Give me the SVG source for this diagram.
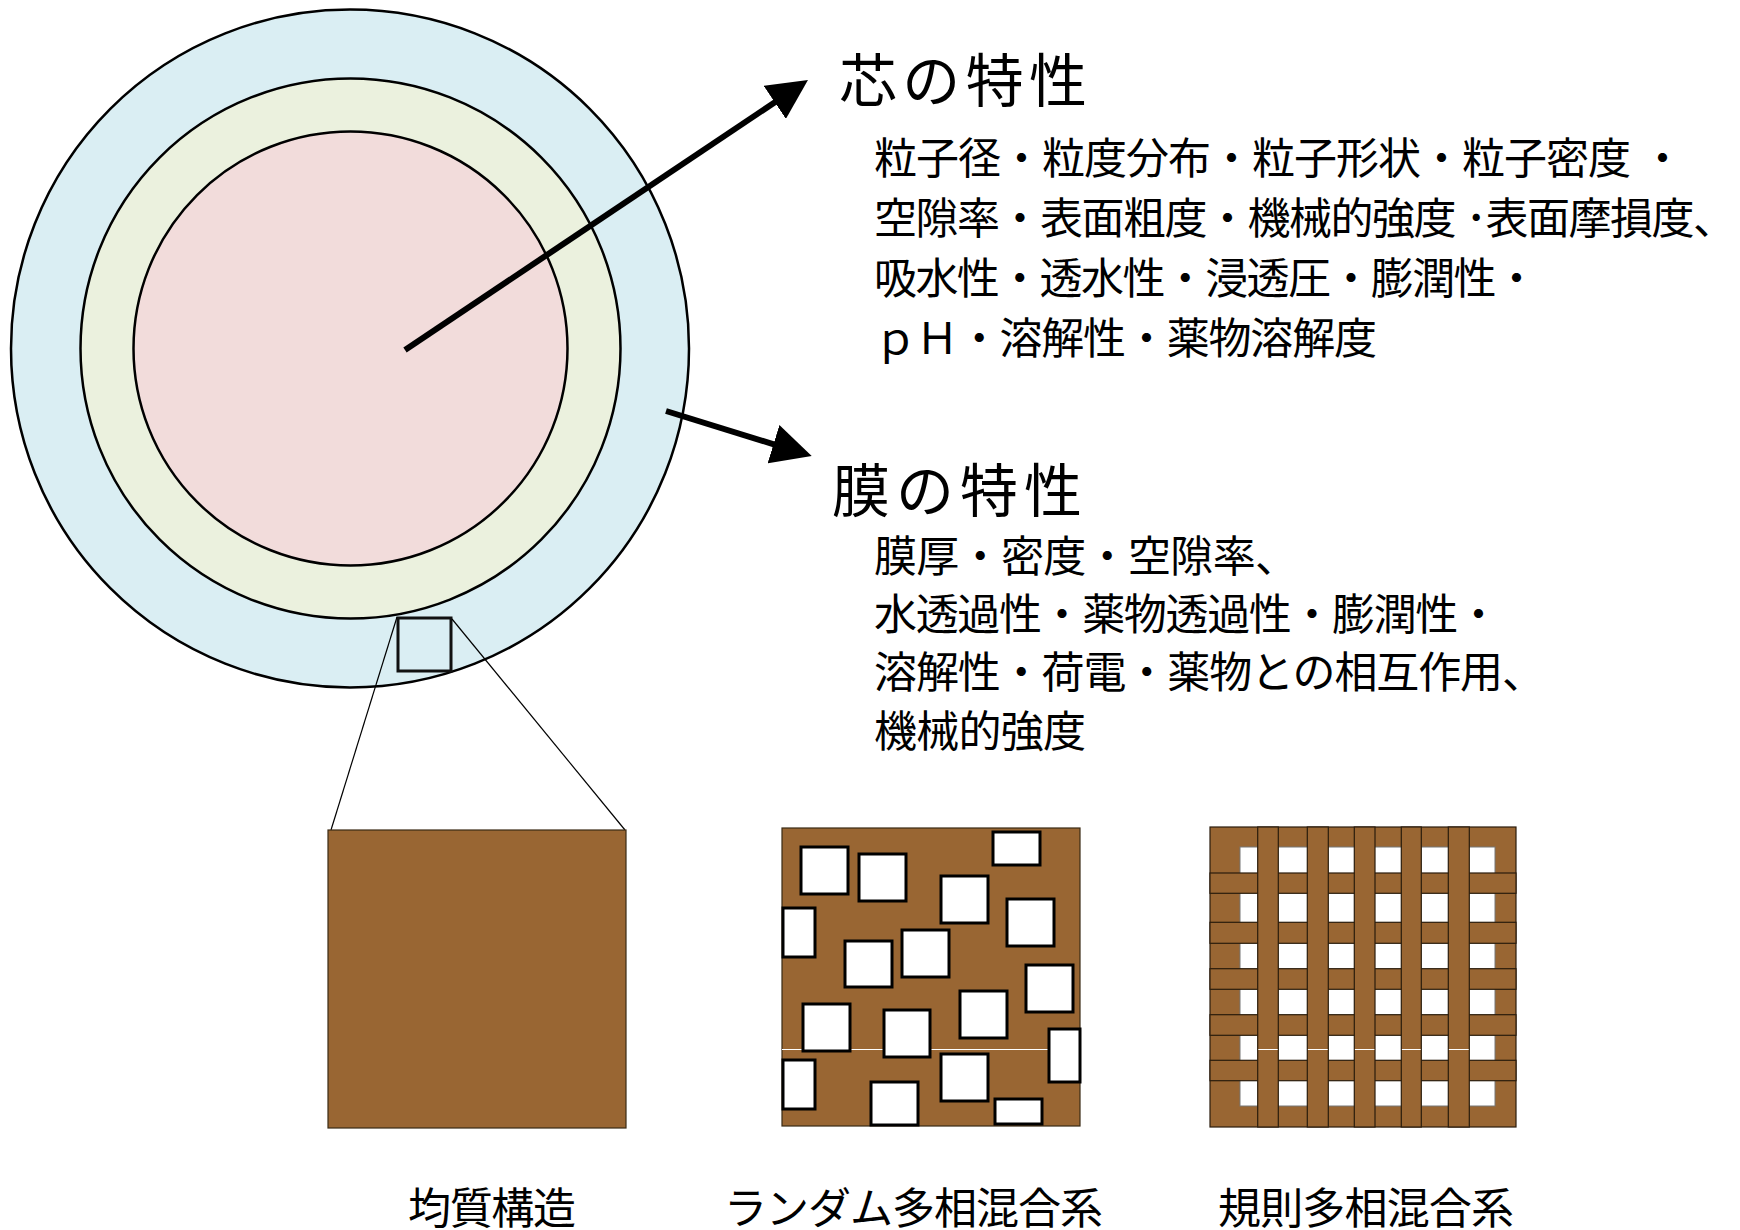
<svg xmlns="http://www.w3.org/2000/svg" width="1740" height="1230" viewBox="0 0 1740 1230">
<defs>
<style>
.t{font-family:"Liberation Sans","Noto Sans CJK JP",sans-serif;fill:#000;}
.title{font-size:58px;}
.body{font-size:43px;}
.brown{fill:#996633;stroke:#3a2a14;stroke-width:1.2;}
.hole{fill:#fff;stroke:#000;stroke-width:3;}
.bar{fill:#996633;stroke:#2a1c0c;stroke-width:1.2;}
.ring{stroke:#000;stroke-width:2.5;}
.arrow{stroke:#000;stroke-width:6;fill:none;marker-end:url(#ah);}
.zoomline{stroke:#000;stroke-width:1.2;fill:none;}
.art{stroke:#fff;stroke-width:1;}
</style>
<marker id="ah" markerUnits="userSpaceOnUse" markerWidth="40" markerHeight="40" viewBox="0 0 40 40" refX="2" refY="20" orient="auto">
<path d="M0,0 L40,20 L0,40 z" fill="#000"/>
</marker>
</defs>

<g id="particle">
<circle cx="350" cy="348.5" r="339" fill="#DAEEF3" class="ring"/>
<circle cx="350.5" cy="348.5" r="270" fill="#EBF1DE" class="ring"/>
<circle cx="350.5" cy="348.5" r="217" fill="#F2DCDB" class="ring"/>
<rect x="398" y="618" width="53" height="53" fill="none" stroke="#111" stroke-width="3"/>
</g>

<g id="connectors">
<line x1="405" y1="350" x2="776.4" y2="101.2" class="arrow"/>
<line x1="666" y1="411" x2="775.4" y2="444.8" class="arrow"/>
<line x1="397" y1="617" x2="331" y2="830" class="zoomline"/>
<line x1="452" y1="619" x2="625" y2="830" class="zoomline"/>
</g>

<g id="core-text">
<text class="t title" x="839" y="102" textLength="248">芯の特性</text>
<text class="t body" x="874" y="174" textLength="810">粒子径・粒度分布・粒子形状・粒子密度 ・</text>
<text class="t body" x="874" y="234" textLength="862">空隙率・表面粗度・機械的強度 ･表面摩損度、</text>
<text class="t body" x="874" y="294" textLength="664">吸水性・透水性・浸透圧・膨潤性・</text>
<text class="t body" x="874" y="354" textLength="503">ｐＨ・溶解性・薬物溶解度</text>
</g>

<g id="membrane-text">
<text class="t title" x="832" y="512" textLength="250">膜の特性</text>
<text class="t body" x="874" y="572" textLength="424">膜厚・密度・空隙率、</text>
<text class="t body" x="874" y="630" textLength="626">水透過性・薬物透過性・膨潤性・</text>
<text class="t body" x="874" y="688" textLength="671">溶解性・荷電・薬物との相互作用、</text>
<text class="t body" x="874" y="747" textLength="212">機械的強度</text>
</g>

<g id="homogeneous">
<rect x="328" y="830" width="298" height="298" class="brown"/>
<text class="t body" x="408" y="1224" textLength="168">均質構造</text>
</g>

<g id="random">
<rect x="782" y="828" width="298" height="298" class="brown"/>
<line x1="782" y1="1049.5" x2="1048" y2="1049.5" class="art"/>
<rect x="801" y="847" width="47" height="47" class="hole"/>
<rect x="859" y="854" width="47" height="47" class="hole"/>
<rect x="993" y="832" width="47" height="33" class="hole"/>
<rect x="941" y="876" width="47" height="47" class="hole"/>
<rect x="783" y="908" width="32" height="49" class="hole"/>
<rect x="1007" y="899" width="47" height="47" class="hole"/>
<rect x="845" y="941" width="47" height="46" class="hole"/>
<rect x="902" y="930" width="47" height="47" class="hole"/>
<rect x="1026" y="965" width="47" height="47" class="hole"/>
<rect x="803" y="1004" width="47" height="47" class="hole"/>
<rect x="884" y="1010" width="46" height="47" class="hole"/>
<rect x="960" y="991" width="47" height="47" class="hole"/>
<rect x="1049" y="1029" width="31" height="53" class="hole"/>
<rect x="783" y="1060" width="32" height="49" class="hole"/>
<rect x="941" y="1054" width="47" height="47" class="hole"/>
<rect x="871" y="1082" width="47" height="43" class="hole"/>
<rect x="995" y="1099" width="47" height="25" class="hole"/>
<text class="t body" x="724" y="1224" textLength="379">ランダム多相混合系</text>
</g>

<g id="regular">
<rect x="1210" y="827" width="306" height="300" class="bar"/>
<rect x="1240" y="847" width="255" height="259" fill="#fff" stroke="#777" stroke-width="1"/>
<rect x="1210" y="873" width="306" height="20.3" class="bar"/>
<rect x="1210" y="922.3" width="306" height="21" class="bar"/>
<rect x="1210" y="968.7" width="306" height="20.6" class="bar"/>
<rect x="1210" y="1014.7" width="306" height="20.6" class="bar"/>
<rect x="1210" y="1060.3" width="306" height="20.4" class="bar"/>
<rect x="1257.7" y="827" width="20.6" height="300" class="bar"/>
<rect x="1307.3" y="827" width="21" height="300" class="bar"/>
<rect x="1354.3" y="827" width="20.7" height="300" class="bar"/>
<rect x="1401.3" y="827" width="20" height="300" class="bar"/>
<rect x="1448.3" y="827" width="21" height="300" class="bar"/>
<line x1="1258.3" y1="1049.5" x2="1277.7" y2="1049.5" class="art"/>
<line x1="1307.9" y1="1049.5" x2="1327.7" y2="1049.5" class="art"/>
<line x1="1354.9" y1="1049.5" x2="1374.4" y2="1049.5" class="art"/>
<line x1="1401.9" y1="1049.5" x2="1420.7" y2="1049.5" class="art"/>
<line x1="1448.9" y1="1049.5" x2="1468.7" y2="1049.5" class="art"/>
<text class="t body" x="1218" y="1224" textLength="296">規則多相混合系</text>
</g>
</svg>
